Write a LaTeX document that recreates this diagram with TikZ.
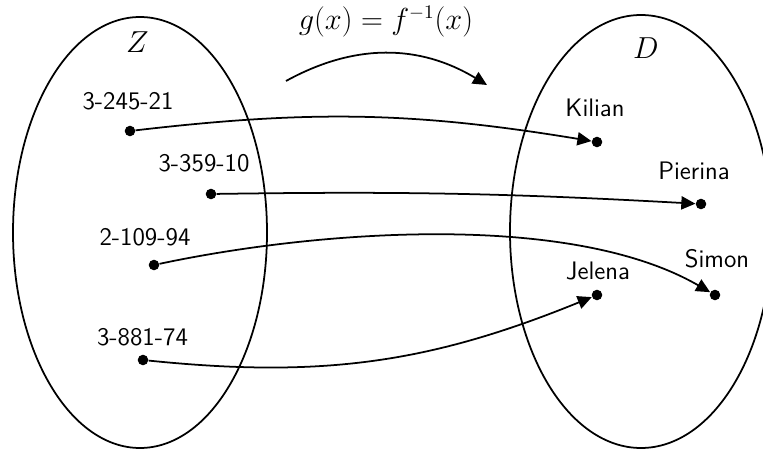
\documentclass[tikz,border=0pt]{standalone}
\usepackage{amsmath,amssymb}
\usetikzlibrary{arrows.meta}

\begin{document}
\begin{tikzpicture}[
  dot/.style={circle, fill, inner sep=0pt, minimum size=6pt},
  lbl/.style={anchor=base, font=\sffamily\Large},
  mth/.style={font=\fontsize{16}{19}\selectfont},
  arr/.style={-{Triangle[length=8pt, width=7.5pt]}, line width=1pt}
]
\useasboundingbox (0,0) rectangle (15.26,9);

% the two sets
\draw[line width=1pt] (2.80,4.35) ellipse (2.54 and 4.31);
\draw[line width=1pt] (12.82,4.37) ellipse (2.62 and 4.33);
\node[mth] (setz) at (2.75,8.15) {$Z$};
\node[mth] (setd) at (12.92,8.04) {$D$};

% elements of Z
\node[dot] (z1) at (2.60,6.38) {};
\node[dot] (z2) at (4.22,5.12) {};
\node[dot] (z3) at (3.08,3.70) {};
\node[dot] (z4) at (2.86,1.80) {};
\node[lbl] at (2.56,6.80) {3-245-21};
\node[lbl] at (4.08,5.56) {3-359-10};
\node[lbl] at (2.90,4.08) {2-109-94};
\node[lbl] at (2.85,2.10) {3-881-74};

% elements of D
\node[dot] (kilian) at (11.94,6.16) {};
\node[dot] (pierina) at (14.02,4.92) {};
\node[dot] (simon) at (14.30,3.10) {};
\node[dot] (jelena) at (11.94,3.10) {};
\node[lbl] at (11.90,6.66) {Kilian};
\node[lbl] at (13.88,5.40) {Pierina};
\node[lbl] at (14.34,3.64) {Simon};
\node[lbl] at (11.96,3.40) {Jelena};

% mapping
\coordinate (gfrom) at (5.72,7.38);
\coordinate (gto) at (9.74,7.30);
\draw[arr] (gfrom) to[bend left=30] (gto);
\node[mth] (gmap) at (7.72,8.56) {$g(x) = f^{-1}(x)$};

\draw[arr] (z1) to[bend left=8] (kilian);
\draw[arr] (z2) to[bend left=2] (pierina);
\draw[arr] (z3) to[out=12, in=150, looseness=0.75] (simon);
\draw[arr] (z4) to[bend right=14] (jelena);
\end{tikzpicture}
\end{document}
